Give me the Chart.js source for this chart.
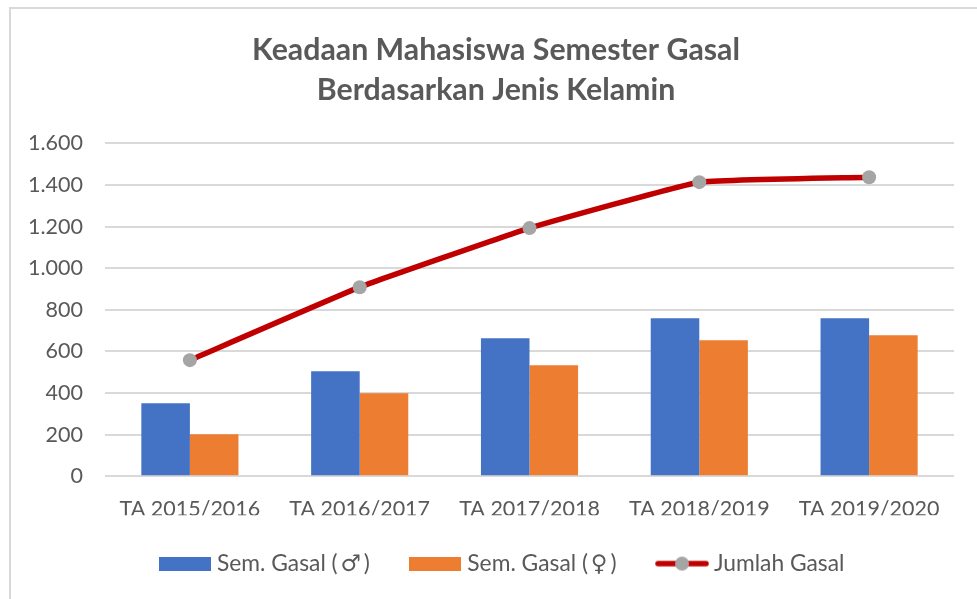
<!DOCTYPE html>
<html>
<head>
<meta charset="utf-8">
<style>
html,body{margin:0;padding:0;background:#fff;overflow:hidden}
#wrap{position:relative;width:977px;height:599px}
#frame{position:absolute;left:9px;top:7px;right:0;bottom:0;border-left:2px solid #d9d9d9;border-top:2px solid #d9d9d9;pointer-events:none}
</style>
<script src="https://cdn.jsdelivr.net/npm/chart.js@4"></script>
</head>
<body>
<div id="wrap"><canvas id="c" width="977" height="599"></canvas><div id="frame"></div></div>
<script>
const titleLines = ["Keadaan Mahasiswa Semester Gasal", "Berdasarkan Jenis Kelamin"];
const categories = ["TA 2015/2016", "TA 2016/2017", "TA 2017/2018", "TA 2018/2019", "TA 2019/2020"];
const semGasalLaki = [351, 505, 664, 760, 760];
const semGasalPerempuan = [202, 399, 534, 654, 678];
const jumlahGasal = [558, 909, 1193, 1414, 1438];
const seriesNames = ["Sem. Gasal (\u2009\u2642\u2009)", "Sem. Gasal (\u2009\u2640\u2009)", "Jumlah Gasal"];
const yTickLabels = {0:"0",200:"200",400:"400",600:"600",800:"800",1000:"1.000",1200:"1.200",1400:"1.400",1600:"1.600"};

const BLUE="#4472c4", ORANGE="#ed7d31", RED="#c00000", GREY="#a5a5a5", TEXT="#595959", GRID="#d9d9d9";
const FONT="Lato, 'DejaVu Sans', sans-serif";

function swatch(color){
  const c=document.createElement('canvas');c.width=52;c.height=14;
  const x=c.getContext('2d');x.fillStyle=color;x.fillRect(0,0,52,14);return c;
}
function lineSwatch(){
  const c=document.createElement('canvas');c.width=54;c.height=16;
  const x=c.getContext('2d');x.strokeStyle=RED;x.lineWidth=5.5;x.lineCap='round';
  x.beginPath();x.moveTo(3,8);x.lineTo(51,8);x.stroke();
  x.fillStyle=GREY;x.beginPath();x.arc(27,8,7,0,Math.PI*2);x.fill();return c;
}
const legendIcons=[swatch(BLUE),swatch(ORANGE),lineSwatch()];

const nudge={id:'nudge',afterLayout(chart){
  chart.titleBlock.left=38;
  chart.legend.left+=55;
  chart.legend.top-=8;
}};

new Chart(document.getElementById('c'),{
  type:'bar',
  data:{labels:categories,datasets:[
    {label:seriesNames[0],data:semGasalLaki,backgroundColor:BLUE,categoryPercentage:0.572,barPercentage:1,order:1},
    {label:seriesNames[1],data:semGasalPerempuan,backgroundColor:ORANGE,categoryPercentage:0.572,barPercentage:1,order:1},
    {type:'line',label:seriesNames[2],data:jumlahGasal,borderColor:RED,borderWidth:5.5,tension:0.1,
     pointBackgroundColor:GREY,pointBorderColor:GREY,pointRadius:7,pointBorderWidth:0,fill:false,order:0}
  ]},
  options:{
    responsive:false,animation:false,
    layout:{padding:{left:0,right:23,top:30,bottom:6}},
    scales:{
      x:{grid:{display:false},border:{display:false},
         ticks:{color:TEXT,font:{family:FONT,size:21.5},padding:12,maxRotation:0},
         afterFit(s){s.height=39;}},
      y:{min:0,max:1600,
         grid:{color:GRID,lineWidth:2,drawTicks:false},border:{display:false},
         ticks:{stepSize:200,color:TEXT,font:{family:FONT,size:21.5},padding:22,callback:v=>yTickLabels[v]},
         afterFit(s){s.width=105;}}
    },
    plugins:{
      tooltip:{enabled:false},
      title:{display:true,text:titleLines,color:TEXT,font:{family:FONT,size:30.3,weight:'bold',lineHeight:1.32},padding:{top:0,bottom:33.5}},
      legend:{position:'bottom',
        labels:{color:TEXT,font:{family:FONT,size:22.8},usePointStyle:true,pointStyleWidth:41,boxHeight:14,padding:45,
          generateLabels(chart){
            return chart.data.datasets.map((d,i)=>({text:d.label,fontColor:TEXT,datasetIndex:i,pointStyle:legendIcons[i],hidden:false,lineWidth:0,strokeStyle:'transparent',fillStyle:'transparent'}));
          }}
      }
    }
  },
  plugins:[nudge]
});
</script>
</body>
</html>
